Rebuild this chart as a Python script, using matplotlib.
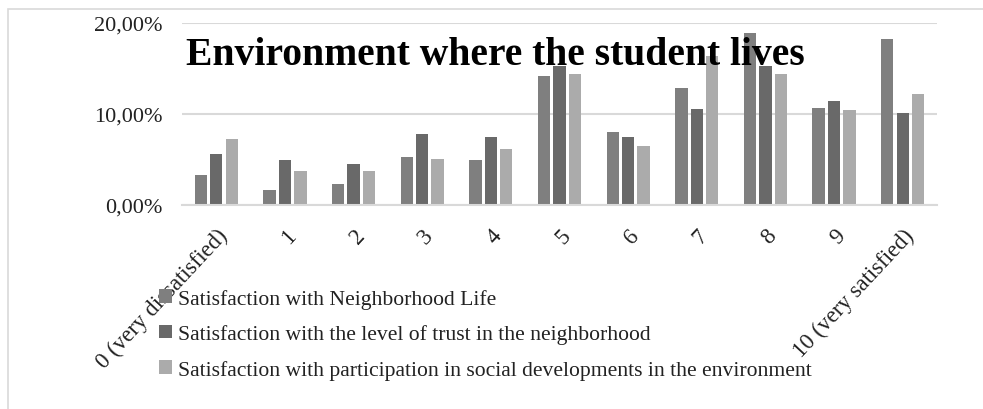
import matplotlib
matplotlib.use("Agg")
import matplotlib.pyplot as plt
import matplotlib as mpl
from matplotlib.patches import Rectangle
import numpy as np

mpl.rcParams.update({
    "font.family": "Liberation Serif",
})

CATEGORIES = ["0 (very dissatisfied)", "1", "2", "3", "4", "5", "6", "7", "8", "9",
              "10 (very satisfied)"]
SERIES = [
    "Satisfaction with Neighborhood Life",
    "Satisfaction with the level of trust in the neighborhood",
    "Satisfaction with participation in social developments in the environment",
]
NEIGHBORHOOD = [3.3, 1.6, 2.3, 5.3, 4.9, 14.2, 8.0, 12.9, 18.9, 10.7, 18.2]
TRUST = [5.6, 4.9, 4.5, 7.8, 7.5, 15.3, 7.5, 10.5, 15.3, 11.4, 10.1]
PARTICIPATION = [7.3, 3.7, 3.7, 5.1, 6.1, 14.4, 6.5, 16.4, 14.4, 10.4, 12.2]
COLORS = ["#7f7f7f", "#696969", "#ababab"]

fig = plt.figure(figsize=(9.83, 4.10), dpi=100)
ax = fig.add_axes([182 / 983, 1 - 206 / 410, (937 - 182) / 983, (206 - 24) / 410])

# outer chart border
fig.patches.append(Rectangle((8 / 983, -0.5), 1.2, 1.5 - 10 / 410,
                             transform=fig.transFigure, fill=False,
                             edgecolor="#d9d9d9", linewidth=1.2, zorder=0))

x = np.arange(len(CATEGORIES))
width = 0.18
step = 0.225
for i, (vals, label) in enumerate(zip([NEIGHBORHOOD, TRUST, PARTICIPATION], SERIES)):
    ax.bar(x + (i - 1) * step, vals, width=width, color=COLORS[i], label=label, zorder=2)

ax.set_xlim(-0.5, len(CATEGORIES) - 0.5)
ax.set_ylim(0, 20)
ax.set_yticks([0, 10, 20])
ax.set_yticklabels(["0,00%", "10,00%", "20,00%"], fontsize=16, color="#222222")
ax.set_xticks(x)
ax.set_xticklabels(CATEGORIES, rotation=47, ha="right", va="top",
                   rotation_mode="anchor", fontsize=16.5, color="#222222")
ax.tick_params(axis="x", length=0, pad=14)
ax.tick_params(axis="y", length=0, pad=14)
for s in ["top", "right", "left"]:
    ax.spines[s].set_visible(False)
ax.spines["bottom"].set_color("#d9d9d9")
ax.spines["bottom"].set_linewidth(1.5)
ax.grid(axis="y", color="#d9d9d9", linewidth=1.5, zorder=0)
ax.set_axisbelow(True)

ax.text(0.005, 0.825, "Environment where the student lives", transform=ax.transAxes,
        fontsize=28.5, fontweight="bold", color="black", va="center", ha="left", zorder=5)

fig.legend(loc="upper left", bbox_to_anchor=(150 / 983, 1 - 281 / 410),
           frameon=False, fontsize=15.6, handlelength=0.6, handleheight=0.6,
           handletextpad=0.3, labelspacing=0.72, borderaxespad=0, labelcolor="#222222")

fig.savefig("out.png", dpi=100)
